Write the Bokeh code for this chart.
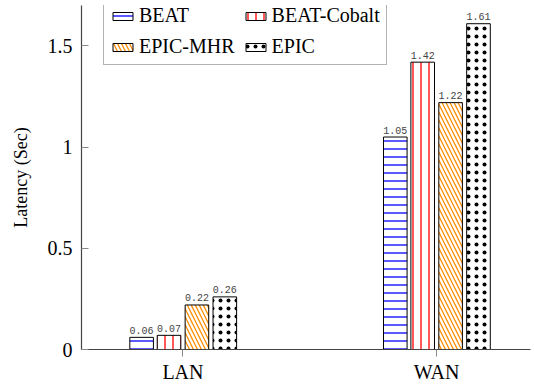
from bokeh.plotting import figure
from bokeh.models import Range1d, FixedTicker, ColumnDataSource, Legend, LegendItem
from bokeh.core.properties import value
from bokeh.embed import file_html
from bokeh.resources import INLINE

categories = ["LAN", "WAN"]
series_names = ["BEAT", "BEAT-Cobalt", "EPIC-MHR", "EPIC"]
beat = [0.06, 1.05]
beat_cobalt = [0.07, 1.42]
epic_mhr = [0.22, 1.22]
epic = [0.26, 1.61]
y_ticks = [0, 0.5, 1, 1.5]
y_tick_labels = ["0", "0.5", "1", "1.5"]

series_values = [beat, beat_cobalt, epic_mhr, epic]
offsets = [-0.163, -0.055, 0.055, 0.165]
bar_w = 0.093
hatch_patterns = ["horizontal_line", "vertical_line", "left_diagonal_line", "dot"]
hatch_colors = ["#0000ff", "#ff0000", "#ff8c00", "#000000"]
hatch_weights = [1.3, 1.3, 1.3, 1]
hatch_scales = [8, 8, 8, 8]

SERIF = "Liberation Serif"

p = figure(width=534, height=385, output_backend="svg", toolbar_location=None,
           x_range=Range1d(-0.40, 1.37), y_range=Range1d(0, 1.70),
           min_border_left=81, min_border_bottom=36, min_border_top=5, min_border_right=4)
p.outline_line_color = None
p.xgrid.visible = False
p.ygrid.visible = False
p.background_fill_color = "white"
p.border_fill_color = "white"

items = []
for name, vals, off, hp, hc, hw, hs in zip(series_names, series_values, offsets,
                                          hatch_patterns, hatch_colors, hatch_weights, hatch_scales):
    xs = [i + off for i in range(len(categories))]
    src = ColumnDataSource(dict(x=xs, top=vals, lbl=["%.2f" % v for v in vals]))
    r = p.vbar(x="x", top="top", width=bar_w, source=src, fill_color="white",
               line_color="black", line_width=1, hatch_pattern=hp, hatch_color=hc,
               hatch_scale=hs, hatch_weight=hw)
    p.text(x="x", y="top", text="lbl", source=src, text_align="center",
           text_baseline="alphabetic", y_offset=-7, text_font=value("Liberation Mono"),
           text_font_size="10px", text_color="#444444")
    items.append(LegendItem(label=name, renderers=[r]))

legend = Legend(items=items, orientation="horizontal", ncols=2, location=(22, 284))
legend.margin = 0
legend.padding = 6
legend.spacing = 8
legend.glyph_width = 25
legend.glyph_height = 10
legend.label_standoff = 4
legend.label_height = 16
legend.label_text_line_height = 1.0
legend.label_text_font = SERIF
legend.label_text_font_size = "20px"
legend.label_text_color = "black"
legend.border_line_color = "#666666"
legend.border_line_width = 1.5
legend.background_fill_alpha = 1
p.add_layout(legend)

xa = p.xaxis[0]
ya = p.yaxis[0]
xa.ticker = FixedTicker(ticks=list(range(len(categories))))
xa.major_label_overrides = {i: c for i, c in enumerate(categories)}
xa.major_tick_in = 0
xa.major_tick_out = 7
xa.minor_tick_line_color = None
xa.major_label_standoff = 4

ya.ticker = FixedTicker(ticks=y_ticks)
ya.major_label_overrides = {t: l for t, l in zip(y_ticks, y_tick_labels)}
ya.major_tick_in = 7
ya.major_tick_out = 0
ya.minor_tick_line_color = None
ya.major_label_standoff = 9
ya.axis_label = "Latency (Sec)"
ya.axis_label_standoff = 14
ya.axis_label_text_font = SERIF
ya.axis_label_text_font_size = "18px"
ya.axis_label_text_font_style = "normal"
ya.axis_label_text_color = "black"

for ax in (xa, ya):
    ax.axis_line_color = "#444444"
    ax.axis_line_width = 1.2
    ax.major_tick_line_color = "#888888"
    ax.major_label_text_font = SERIF
    ax.major_label_text_font_size = "20px"
    ax.major_label_text_color = "black"

open("out.html", "w").write(file_html(p, INLINE))
